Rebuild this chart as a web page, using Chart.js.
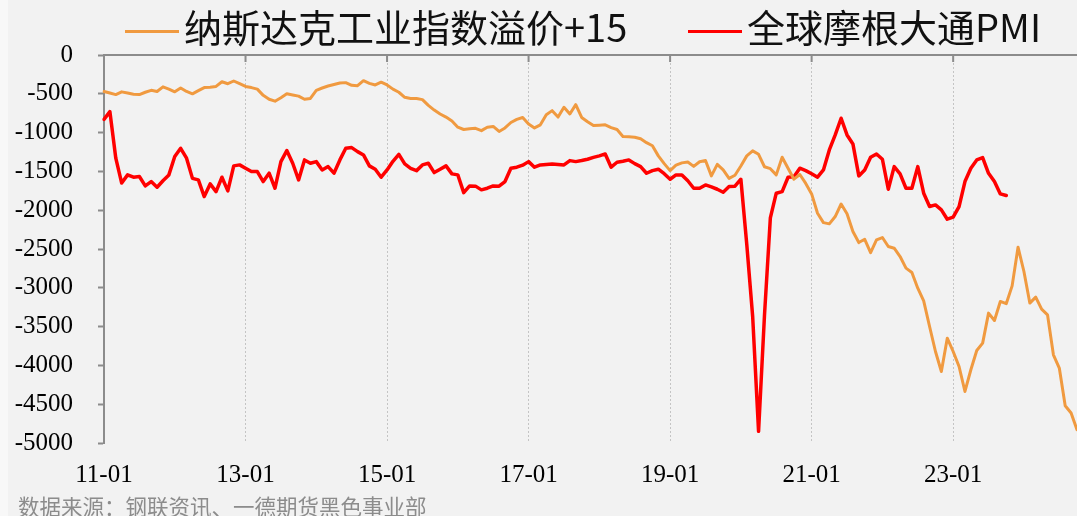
<!DOCTYPE html>
<html>
<head>
<meta charset="utf-8">
<script src="https://cdn.jsdelivr.net/npm/chart.js@4.4.1/dist/chart.umd.min.js"></script>
<style>
    html, body { margin: 0; padding: 0; background: #f2f2f2; }
    #wrap { position: relative; width: 1077px; height: 516px; overflow: hidden; }
    #edge { position: absolute; left: 0; top: 0; width: 8px; height: 516px; background: #f8f8f8; }
    #legend { position: absolute; top: 4px; left: 0; width: 1077px; height: 44px; font-family: "Noto Sans CJK SC"; font-size: 38px; color: #111; }
    .item { position: absolute; top: 0; line-height: 44px; white-space: nowrap; }
    .swatch { display: inline-block; width: 54px; height: 3px; vertical-align: middle; margin-right: 5px; }
    #source { position: absolute; left: 18px; top: 490px; font-family: "Noto Sans CJK SC"; font-size: 21.5px; color: #8c8c8c; white-space: nowrap; }
    canvas { position: absolute; left: 0; top: 0; }
</style>
</head>
<body>
<div id="wrap">
    <div id="edge"></div>
    <canvas id="chart" width="1077" height="516"></canvas>
    <div id="legend"></div>
    <div id="source">数据来源：钢联资讯、一德期货黑色事业部</div>
</div>
<script>
// monthly, 2011-01 .. 2024-10
const nasdaqPremium = [
    -470, -490, -510, -475, -490, -505, -510, -480, -455, -470, -410, -440,
    -475, -425, -470, -500, -460, -420, -415, -405, -345, -370, -335, -370,
    -405, -420, -440, -520, -570, -595, -550, -500, -515, -530, -570, -560,
    -455, -425, -400, -380, -360, -356, -390, -395, -331, -365, -386, -350,
    -386, -440, -480, -545, -560, -560, -575, -650, -710, -760, -800, -850,
    -930, -960, -950, -945, -975, -930, -920, -985, -940, -870, -830, -805,
    -890, -940, -900, -770, -717, -800, -674, -760, -640, -805, -860, -910,
    -905, -900, -935, -960, -1050, -1055, -1060, -1080, -1130, -1170, -1300, -1400,
    -1490, -1420, -1390, -1380, -1435, -1375, -1360, -1558, -1410, -1480, -1590, -1550,
    -1430, -1300, -1235, -1280, -1440, -1465, -1545, -1317, -1460, -1600, -1540, -1655,
    -1790, -2040, -2160, -2176, -2082, -1920, -2047, -2275, -2417, -2375, -2546, -2383,
    -2352, -2468, -2490, -2597, -2747, -2803, -3005, -3168, -3499, -3821, -4078, -3649,
    -3821, -4014, -4336, -4056, -3808, -3713, -3326, -3421, -3176, -3205, -2975, -2477,
    -2790, -3197, -3120, -3275, -3348, -3863, -4034, -4520, -4614, -4829
];
// JPM global PMI, drawn on the same scale, 2011-01 .. 2023-10
const jpmPmi = [
    -830, -730, -1330, -1650, -1545, -1575, -1566, -1687, -1631, -1704, -1620, -1545,
    -1309, -1202, -1330, -1590, -1609, -1824, -1661, -1760, -1575, -1751, -1429, -1416,
    -1459, -1502, -1502, -1631, -1523, -1717, -1374, -1232, -1395, -1610, -1352, -1395,
    -1374, -1481, -1438, -1523, -1352, -1202, -1193, -1245, -1288, -1429, -1472, -1575,
    -1481, -1370, -1280, -1404, -1460, -1490, -1416, -1395, -1515, -1472, -1429, -1532,
    -1545, -1773, -1687, -1690, -1738, -1717, -1687, -1690, -1631, -1459, -1446, -1420,
    -1374, -1446, -1416, -1410, -1404, -1410, -1416, -1361, -1374, -1360, -1343, -1320,
    -1300, -1275, -1446, -1382, -1370, -1352, -1400, -1438, -1524, -1490, -1472, -1530,
    -1601, -1545, -1545, -1620, -1717, -1717, -1674, -1700, -1730, -1768, -1695, -1690,
    -1601, -2440, -3370, -4850, -3360, -2100, -1781, -1760, -1575, -1570, -1459, -1490,
    -1530, -1575, -1481, -1223, -1030, -815, -1030, -1146, -1558, -1481, -1317, -1275,
    -1343, -1730, -1438, -1532, -1717, -1717, -1438, -1781, -1953, -1932, -1996, -2116,
    -2090, -1953, -1631, -1459, -1352, -1322, -1524, -1631, -1790, -1811
];
const seriesNames = ['纳斯达克工业指数溢价+15', '全球摩根大通PMI'];
const seriesColors = ['#f09a40', '#ff0000'];

const months = [];
for (let y = 11; y <= 24; y++) {
    for (let m = 1; m <= 12; m++) {
        months.push(y + '-' + String(m).padStart(2, '0'));
    }
}
const labels = months.slice(0, nasdaqPremium.length);

// legend drawn as html so the gap between swatch and text matches
const legend = document.getElementById('legend');
[125, 688].forEach((left, i) => {
    const item = document.createElement('div');
    item.className = 'item';
    item.style.left = left + 'px';
    item.innerHTML = '<span class="swatch" style="background:' + seriesColors[i] + '"></span>' + seriesNames[i];
    legend.appendChild(item);
});

const zeroAxis = {
    id: 'zeroAxis',
    beforeDatasetsDraw(chart) {
        const { ctx, chartArea, scales } = chart;
        const y0 = scales.y.getPixelForValue(0);
        ctx.save();
        ctx.strokeStyle = '#8c8c8c';
        ctx.lineWidth = 2;
        ctx.beginPath();
        ctx.moveTo(chartArea.left, y0);
        ctx.lineTo(chartArea.right, y0);
        labels.forEach((l, i) => {
            if (i % 24 === 0 && i > 0) {
                const x = scales.x.getPixelForValue(i);
                ctx.moveTo(x, y0);
                ctx.lineTo(x, y0 + 7);
            }
        });
        ctx.stroke();
        ctx.restore();
    }
};

const serif = { family: "'Liberation Serif', 'Times New Roman', serif", size: 25 };

new Chart(document.getElementById('chart'), {
    type: 'line',
    data: {
        labels: labels,
        datasets: [
            { label: seriesNames[0], data: nasdaqPremium, borderColor: seriesColors[0], borderWidth: 3 },
            { label: seriesNames[1], data: jpmPmi, borderColor: seriesColors[1], borderWidth: 3.5 }
        ]
    },
    options: {
        responsive: false,
        animation: false,
        layout: { padding: { top: 55, left: 0, right: 0, bottom: 0 } },
        elements: { point: { radius: 0 }, line: { tension: 0, borderJoinStyle: 'round', borderCapStyle: 'round' } },
        plugins: { legend: { display: false }, tooltip: { enabled: false } },
        scales: {
            x: {
                afterFit: (scale) => {
                    scale.height = 73;
                    scale.paddingRight = 0;
                    scale.paddingLeft = 0;
                },
                grid: {
                    drawTicks: false,
                    lineWidth: 1,
                    color: (c) => (c.index % 24 === 0 && c.index > 0) ? '#c4c4c4' : 'rgba(0,0,0,0)'
                },
                border: { display: false, dash: [2, 2] },
                ticks: {
                    autoSkip: false,
                    maxRotation: 0,
                    padding: 17,
                    color: '#000',
                    font: serif,
                    callback: (v, i) => i % 24 === 0 ? labels[i] : ''
                }
            },
            y: {
                min: -5000,
                max: 0,
                afterFit: (scale) => { scale.width = 104; },
                grid: { drawOnChartArea: false, drawTicks: true, tickLength: 6, tickColor: '#8c8c8c', tickWidth: 2 },
                border: { display: true, color: '#8c8c8c', width: 2 },
                ticks: {
                    stepSize: 500,
                    padding: 25,
                    color: '#000',
                    font: serif,
                    callback: (v) => String(v)
                }
            }
        }
    },
    plugins: [zeroAxis]
});
</script>
</body>
</html>
